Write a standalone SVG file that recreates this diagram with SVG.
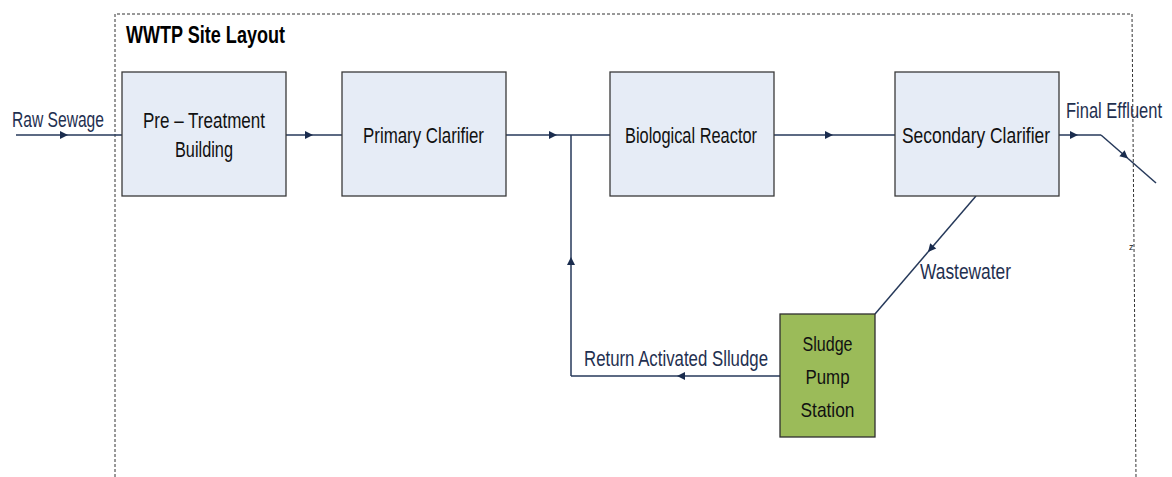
<svg xmlns="http://www.w3.org/2000/svg" width="1172" height="477" viewBox="0 0 1172 477">
<style>
.box{fill:#e6ecf6;stroke:#3a3a3a;stroke-width:1.3}
.green{fill:#9bbb59;stroke:#2f2f2f;stroke-width:1.3}
.t{font-family:"Liberation Sans",Arial,sans-serif;font-size:22px;fill:#111}
.s{font-family:"Liberation Sans",Arial,sans-serif;font-size:21px;fill:#111}
.lbl{font-family:"Liberation Sans",Arial,sans-serif;font-size:22px;fill:#1f3050}
.title{font-family:"Liberation Sans",Arial,sans-serif;font-size:24px;font-weight:bold;fill:#000}
.c{fill:none;stroke:#26395a;stroke-width:1.5}
.a{fill:none;stroke:#26395a;stroke-width:1.5;marker-end:url(#ah)}
.frame{fill:none;stroke:#333;stroke-width:1;stroke-dasharray:3,2}
</style>
<defs>
<marker id="ah" markerUnits="userSpaceOnUse" markerWidth="10" markerHeight="10" refX="9" refY="5" orient="auto">
<path d="M1,1 L9,5 L1,9 Z" fill="#1a2c4e"/>
</marker>
</defs>
<rect width="1172" height="477" fill="#fff"/>
<path class="frame" d="M115,477 V14 H1132 L1136,477"/>
<text class="title" x="126" y="43" textLength="159" lengthAdjust="spacingAndGlyphs">WWTP Site Layout</text>
<g id="connectors">
<path class="a" d="M16,135 H68"/><path class="c" d="M68,135 H122"/>
<path class="a" d="M286,135 H313"/><path class="c" d="M313,135 H342"/>
<path class="a" d="M506,135 H557"/><path class="c" d="M557,135 H610"/>
<path class="a" d="M774,135 H833"/><path class="c" d="M833,135 H895"/>
<path class="a" d="M1059,135 H1078"/><path class="c" d="M1078,135 H1101"/>
<path class="a" d="M1101,135 L1128,158.5"/><path class="c" d="M1128,158.5 L1156,183"/>
<path class="a" d="M976,196 L928,252"/><path class="c" d="M928,252 L875,314"/>
<path class="a" d="M780,376 H677"/><path class="c" d="M677,376 H571"/>
<path class="a" d="M571,376 V257"/><path class="c" d="M571,257 V135"/>
<text class="lbl" x="12" y="127" textLength="92" lengthAdjust="spacingAndGlyphs">Raw Sewage</text>
<text class="lbl" x="1066" y="118" textLength="96" lengthAdjust="spacingAndGlyphs">Final Effluent</text>
<text class="lbl" x="920" y="279" textLength="91" lengthAdjust="spacingAndGlyphs">Wastewater</text>
<text class="lbl" x="584" y="366" textLength="184" lengthAdjust="spacingAndGlyphs">Return Activated Slludge</text>
<text x="1129" y="250" font-family="Liberation Sans,Arial,sans-serif" font-size="9" fill="#222">z</text>
</g>
<g id="pre-treatment">
<rect class="box" x="122" y="72" width="164" height="124"/>
<text class="t" x="143" y="128" textLength="122" lengthAdjust="spacingAndGlyphs">Pre – Treatment</text>
<text class="t" x="175" y="157" textLength="58" lengthAdjust="spacingAndGlyphs">Building</text>
</g>
<g id="primary-clarifier">
<rect class="box" x="342" y="72" width="164" height="124"/>
<text class="t" x="363" y="143" textLength="121" lengthAdjust="spacingAndGlyphs">Primary Clarifier</text>
</g>
<g id="biological-reactor">
<rect class="box" x="610" y="72" width="164" height="124"/>
<text class="t" x="625" y="143" textLength="132" lengthAdjust="spacingAndGlyphs">Biological Reactor</text>
</g>
<g id="secondary-clarifier">
<rect class="box" x="895" y="72" width="164" height="124"/>
<text class="t" x="902" y="143" textLength="148" lengthAdjust="spacingAndGlyphs">Secondary Clarifier</text>
</g>
<g id="sludge-pump-station">
<rect class="green" x="780" y="314" width="95" height="123"/>
<text class="s" x="827.5" y="351" text-anchor="middle" textLength="50" lengthAdjust="spacingAndGlyphs">Sludge</text>
<text class="s" x="827.5" y="384" text-anchor="middle" textLength="44" lengthAdjust="spacingAndGlyphs">Pump</text>
<text class="s" x="827.5" y="417" text-anchor="middle" textLength="54" lengthAdjust="spacingAndGlyphs">Station</text>
</g>
</svg>
